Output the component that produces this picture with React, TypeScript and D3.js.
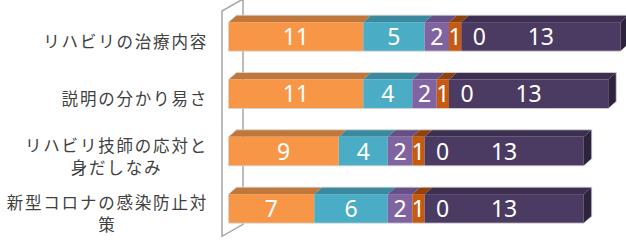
import React, { useRef, useEffect } from 'react';
import * as d3 from 'd3';

// 項目名（改行位置は元のグラフに合わせる）
const categories = [
  'リハビリの治療内容',
  '説明の分かり易さ',
  'リハビリ技師の応対と\n身だしなみ',
  '新型コロナの感染防止対\n策'
];
// 各系列の値（左から順に積み上げ）
const seriesA = [11, 11, 9, 7];
const seriesB = [5, 4, 4, 6];
const seriesC = [2, 2, 2, 2];
const seriesD = [1, 1, 1, 1];
const seriesE = [0, 0, 0, 0];
const seriesF = [13, 13, 13, 13];

const SERIES = [seriesA, seriesB, seriesC, seriesD, seriesE, seriesF];
// front / top / side
const COLORS = [
  ['#F79646', '#C0773C', '#A8642E'],
  ['#4BACC6', '#3A899E', '#2F7285'],
  ['#8064A2', '#664F85', '#564273'],
  ['#C55A11', '#8E430C', '#7A390A'],
  ['#7F7F7F', '#666666', '#555555'],
  ['#4B3A62', '#3C2F50', '#2D233C']
];

function drawChart(svgEle: SVGSVGElement) {
  const svg = d3.select(svgEle);
  svg.selectAll('*').remove();

  const DEPTH_X = 8;
  const DEPTH_Y = 7;
  const LABEL_RIGHT = 208;

  const totals = categories.map((_, i) => d3.sum(SERIES, (s) => s[i]));
  const x = d3
    .scaleLinear()
    .domain([0, d3.max(totals) as number])
    .range([228.5, 620.5]);
  const y = d3
    .scaleBand()
    .domain(categories)
    .range([8, 237.3])
    .paddingInner(0.494)
    .paddingOuter(0.247);
  const bw = y.bandwidth();

  // 奥の壁（縦軸）
  const [yTop, yBottom] = y.range();
  const wallFront = x(0) - 6.5;
  const wallBack = wallFront + 21;
  svg
    .append('path')
    .attr(
      'd',
      `M${wallBack},${yTop - 9} L${wallBack},${yBottom - 13} L${wallFront},${yBottom - 1} L${wallFront},${yTop + 3} Z`
    )
    .attr('fill', 'white')
    .attr('stroke', '#a6a6a6')
    .attr('stroke-width', 1.5);

  const bars = svg.append('g');
  categories.forEach((cat, i) => {
    const yy = y(cat) as number;
    let cum = 0;
    let lastEnd = x(0);
    let lastIdx = 0;
    const g = bars.append('g');
    SERIES.forEach((s, k) => {
      const v = s[i];
      const x0 = x(cum);
      const x1 = x(cum + v);
      cum += v;
      if (v <= 0) return;
      // 上面
      g.append('path')
        .attr(
          'd',
          `M${x0},${yy} L${x0 + DEPTH_X},${yy - DEPTH_Y} L${x1 + DEPTH_X},${yy - DEPTH_Y} L${x1},${yy} Z`
        )
        .attr('fill', COLORS[k][1]);
      // 正面
      g.append('rect')
        .attr('x', x0)
        .attr('y', yy)
        .attr('width', x1 - x0)
        .attr('height', bw)
        .attr('fill', COLORS[k][0]);
      lastEnd = x1;
      lastIdx = k;
    });
    // 右側面
    g.append('path')
      .attr(
        'd',
        `M${lastEnd},${yy} L${lastEnd + DEPTH_X},${yy - DEPTH_Y} L${lastEnd + DEPTH_X},${yy + bw - DEPTH_Y} L${lastEnd},${yy + bw} Z`
      )
      .attr('fill', COLORS[lastIdx][2]);
    // 外枠
    const xs = x(0);
    g.append('path')
      .attr(
        'd',
        `M${xs},${yy + bw} L${xs},${yy} L${xs + DEPTH_X},${yy - DEPTH_Y} L${lastEnd + DEPTH_X},${yy - DEPTH_Y} L${lastEnd + DEPTH_X},${yy + bw - DEPTH_Y} L${lastEnd},${yy + bw} Z`
      )
      .attr('fill', 'none')
      .attr('stroke', '#d6d6d6')
      .attr('stroke-width', 0.8);

    // データラベル
    cum = 0;
    SERIES.forEach((s) => {
      const v = s[i];
      const x0 = x(cum);
      const x1 = x(cum + v);
      cum += v;
      g.append('text')
        .attr('x', v > 0 ? (x0 + x1) / 2 : x0 + 18)
        .attr('y', yy + bw / 2)
        .attr('dy', '0.36em')
        .attr('text-anchor', 'middle')
        .attr('fill', 'white')
        .style('font-family', '"Noto Sans", sans-serif')
        .style('font-size', '23px')
        .text(v);
    });
  });

  // 項目ラベル（複数行は中央揃え、ブロックは右揃え）
  const LINE_H = 22;
  categories.forEach((cat) => {
    const lines = cat.split('\n');
    const cy = (y(cat) as number) + bw / 2 + 5.5;
    const g = svg.append('g');
    const texts = lines.map((line, j) =>
      g
        .append('text')
        .attr('y', cy + (j - (lines.length - 1) / 2) * LINE_H)
        .attr('dy', '0.35em')
        .attr('text-anchor', 'middle')
        .attr('fill', '#404040')
        .style('font-family', '"Noto Sans CJK JP", sans-serif')
        .style('font-size', '16.5px')
        .style('letter-spacing', '1.8px')
        .text(line)
    );
    const widths = texts.map((t) => (t.node() as SVGTextElement).getComputedTextLength());
    const maxW = d3.max(widths) as number;
    texts.forEach((t) => t.attr('x', LABEL_RIGHT - maxW / 2));
  });
}

export default function App(): JSX.Element {
  const svgRef = useRef<SVGSVGElement>(null);

  useEffect(() => {
    const svgEle = svgRef.current;
    if (svgEle == null) {
      return;
    }
    drawChart(svgEle);
  }, []);

  return (
    <svg
      ref={svgRef}
      width={626}
      height={240}
      style={{ position: 'absolute', left: 0, top: 0, background: 'white' }}
    />
  );
}
